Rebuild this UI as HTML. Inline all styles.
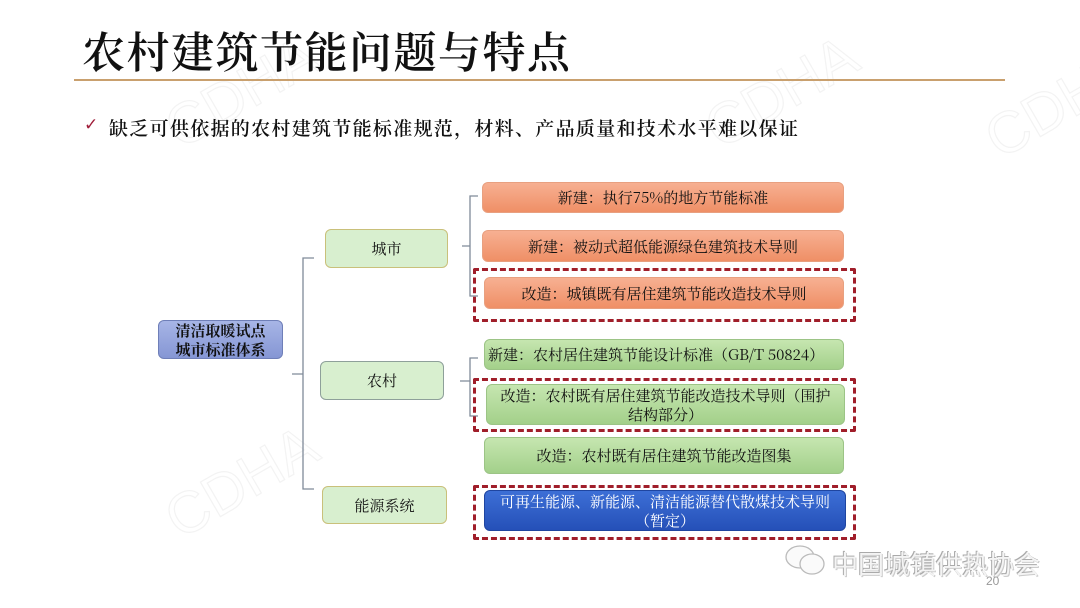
<!DOCTYPE html>
<html><head><meta charset="utf-8"><style>
html,body{margin:0;padding:0;}
body{width:1080px;height:608px;background:#fff;position:relative;overflow:hidden;font-family:"Liberation Serif","Noto Serif CJK SC","Noto Sans CJK SC",serif;}
.a{position:absolute;box-sizing:border-box;}
.box{position:absolute;box-sizing:border-box;border-radius:6px;display:flex;align-items:center;justify-content:center;text-align:center;font-size:15px;color:#111;line-height:19px;font-family:"Noto Serif CJK SC",serif;}
.or{background:linear-gradient(#f7b092,#ef8f66);border:1px solid #e8a080;}
.gr{background:linear-gradient(#c6e6b0,#a3d08a);border:1px solid #9cc486;}
.lg{background:#d8efcf;border:1.5px solid #c9c07a;}
.dash{position:absolute;box-sizing:border-box;border:3px dashed #a01e2a;border-radius:2px;}
</style></head><body>
<svg class="a" style="left:0;top:0" width="1080" height="608">
<g font-family="Liberation Sans,sans-serif" font-size="58" fill="none" stroke="#f3f3f3" stroke-width="1.2">
<text transform="translate(180,150) rotate(-30)">CDHA</text>
<text transform="translate(180,540) rotate(-30)">CDHA</text>
<text transform="translate(720,150) rotate(-30)">CDHA</text>
<text transform="translate(1000,160) rotate(-30)">CDHA</text>
</g>
<g fill="none" stroke="#7f8a99" stroke-width="1.3">
<path d="M314 258 H303 V489 H314 M292 374 H303"/>
<path d="M478 196 H470 V296 H478 M462 246 H470"/>
<path d="M478 358 H470 V416 H478 M460 381 H470"/>
</g>
</svg>
<div class="a" style="left:82px;top:20px;font-size:43px;color:#111;letter-spacing:1.5px;font-family:'Noto Serif CJK SC',serif;font-weight:600;white-space:nowrap;">农村建筑节能问题与特点</div>
<div class="a" style="left:74px;top:79px;width:931px;height:2px;background:#c9a06e;"></div>
<div class="a" style="left:84px;top:115px;font-size:17px;color:#a01e3a;font-family:'DejaVu Sans',sans-serif;">✓</div>
<div class="a" style="left:109px;top:114px;font-size:19px;color:#111;letter-spacing:1.3px;white-space:nowrap;font-family:'Noto Serif CJK SC',serif;font-weight:600;">缺乏可供依据的农村建筑节能标准规范，材料、产品质量和技术水平难以保证</div>

<div class="box" style="left:158px;top:320px;width:125px;height:39px;background:linear-gradient(#a7b5e6,#8596d4);border:1px solid #6f7fb8;font-weight:bold;font-size:15px;">清洁取暖试点<br>城市标准体系</div>
<div class="box lg" style="left:325px;top:229px;width:123px;height:39px;">城市</div>
<div class="box lg" style="left:320px;top:361px;width:124px;height:39px;border-color:#8ea09a;">农村</div>
<div class="box lg" style="left:322px;top:486px;width:125px;height:38px;">能源系统</div>

<div class="box or" style="left:482px;top:182px;width:362px;height:31px;">新建：执行75%的地方节能标准</div>
<div class="box or" style="left:482px;top:230px;width:362px;height:32px;">新建：被动式超低能源绿色建筑技术导则</div>
<div class="dash" style="left:473px;top:268px;width:383px;height:54px;"></div>
<div class="box or" style="left:484px;top:277px;width:360px;height:32px;">改造：城镇既有居住建筑节能改造技术导则</div>

<div class="box gr" style="left:484px;top:339px;width:360px;height:31px;justify-content:flex-start;padding-left:3px;">新建：农村居住建筑节能设计标准（GB/T 50824）</div>
<div class="dash" style="left:473px;top:378px;width:383px;height:54px;"></div>
<div class="box gr" style="left:486px;top:384px;width:359px;height:41px;">改造：农村既有居住建筑节能改造技术导则（围护<br>结构部分）</div>
<div class="box gr" style="left:484px;top:437px;width:360px;height:37px;">改造：农村既有居住建筑节能改造图集</div>

<div class="dash" style="left:473px;top:485px;width:383px;height:55px;"></div>
<div class="box" style="left:484px;top:490px;width:362px;height:41px;background:linear-gradient(#3d6fd6,#2550b8);border:1px solid #1f45a0;color:#fff;">可再生能源、新能源、清洁能源替代散煤技术导则<br>（暂定）</div>

<svg class="a" style="left:784px;top:544px" width="46" height="34"><g fill="#fafafa" stroke="#bbb" stroke-width="1.3"><ellipse cx="16" cy="13" rx="14" ry="11"/><ellipse cx="28" cy="20" rx="12" ry="10"/></g></svg>
<div class="a" style="left:832px;top:545px;font-size:26px;color:#f4f4f4;font-family:'Noto Sans CJK SC',sans-serif;text-shadow:-1px -1px 0 #aaa,1px 1px 0 #ccc;white-space:nowrap;">中国城镇供热协会</div>
<div class="a" style="left:986px;top:574px;font-size:12px;color:#999;font-family:'Liberation Sans',sans-serif;">20</div>
</body></html>
